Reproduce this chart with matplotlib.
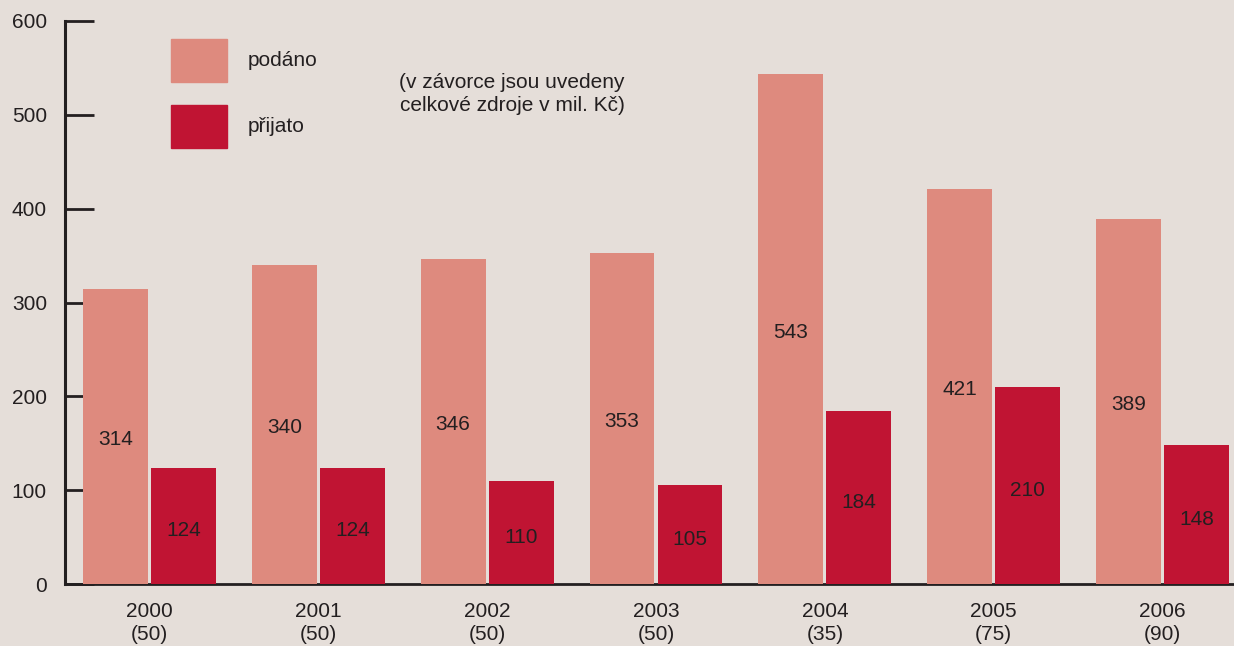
import numpy as np
import matplotlib
matplotlib.use("Agg")
import matplotlib.pyplot as plt
from matplotlib.patches import Rectangle

# data
years = ["2000", "2001", "2002", "2003", "2004", "2005", "2006"]
funds = ["50", "50", "50", "50", "35", "75", "90"]
podano = [314, 340, 346, 353, 543, 421, 389]
prijato = [124, 124, 110, 105, 184, 210, 148]

c_pod = "#DE8A7E"
c_pri = "#C01433"
bg = "#E5DED9"
ink = "#231F20"
fs = 15

plt.rcParams["font.family"] = ["Liberation Sans", "DejaVu Sans"]

W, H = 1234, 646
fig = plt.figure(figsize=(W / 100, H / 100), dpi=100, facecolor=bg)
ax = fig.add_axes([65 / W, (H - 584) / H, 1 - 65 / W, (584 - 21) / H])
ax.set_facecolor(bg)

x = np.arange(len(years))
bw = 65 / 169
off = bw / 2 + 0.009
ax.bar(x - off, podano, bw, color=c_pod, zorder=3)
ax.bar(x + off, prijato, bw, color=c_pri, zorder=3)

# value labels sit roughly at half bar height
for xi, v in zip(x - off, podano):
    ax.text(xi, v / 2 - 3, str(v), ha="center", va="center", fontsize=fs, color=ink, zorder=4)
for xi, v in zip(x + off, prijato):
    ax.text(xi, v / 2 - 5, str(v), ha="center", va="center", fontsize=fs, color=ink, zorder=4)

ax.set_xlim(-0.5, 6.423)
ax.set_ylim(0, 600)
ax.set_yticks(range(0, 601, 100))
ax.set_xticks(x)
ax.set_xticklabels([f"{y}\n({f})" for y, f in zip(years, funds)], fontsize=fs, color=ink,
                   linespacing=1.28)
ax.tick_params(axis="y", direction="in", length=21, width=2, color=ink, pad=13,
               labelsize=fs, labelcolor=ink)
ax.tick_params(axis="x", length=0, pad=13)

for s in ["top", "right"]:
    ax.spines[s].set_visible(False)
ax.spines["left"].set_linewidth(2.2)
ax.spines["left"].set_color(ink)
ax.spines["bottom"].set_linewidth(2)
ax.spines["bottom"].set_color(ink)
ax.spines["bottom"].set_zorder(2)

# legend drawn by hand in figure pixels
def fig_rect(x0, y0, w, h, color):
    fig.patches.append(Rectangle((x0 / W, 1 - (y0 + h) / H), w / W, h / H,
                                 transform=fig.transFigure, color=color, zorder=5))

fig_rect(171, 39, 56, 43, c_pod)
fig_rect(171, 105, 56, 43, c_pri)
fig.text(248 / W, 1 - 60 / H, "podáno", fontsize=fs, color=ink, va="center")
fig.text(248 / W, 1 - 127 / H, "přijato", fontsize=fs, color=ink, va="center")
fig.text(512 / W, 1 - 94 / H, "(v závorce jsou uvedeny\ncelkové zdroje v mil. Kč)",
         fontsize=fs, color=ink, ha="center", va="center", multialignment="center",
         linespacing=1.28)

fig.savefig("out.png", dpi=100, facecolor=bg)
